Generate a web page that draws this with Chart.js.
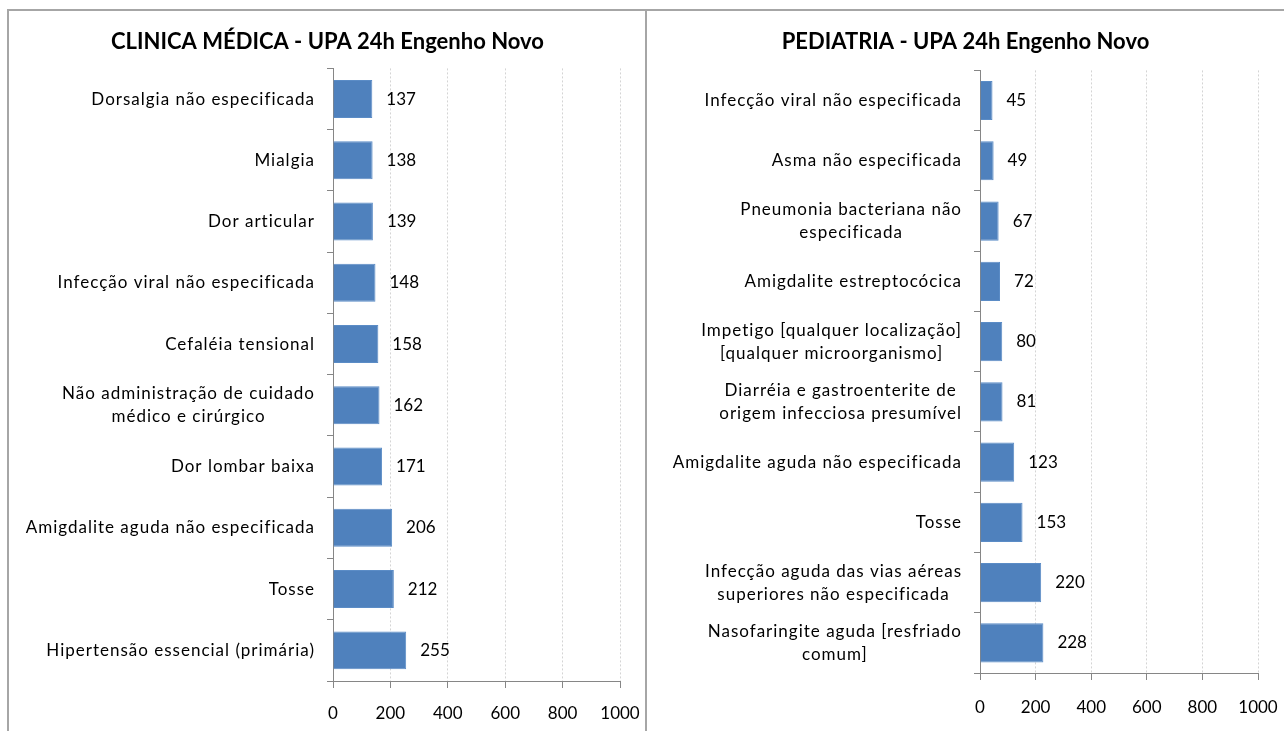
<!DOCTYPE html>
<html lang="pt">
<head>
    <meta charset="UTF-8">
    <title>UPA 24h Engenho Novo</title>
    <script src="https://cdn.jsdelivr.net/npm/chart.js"></script>
    <style>
        body { margin: 0; background: #fff; width: 1284px; height: 731px; overflow: hidden; position: relative; }
        #frame { position: absolute; left: 7px; top: 9px; width: 1277px; height: 722px; border-top: 2px solid #a6a6a6; border-left: 2px solid #a6a6a6; }
        #divider { position: absolute; left: 645px; top: 9px; width: 2px; height: 722px; background: #a6a6a6; }
        canvas { position: absolute; top: 11px; }
        #clinicaChart { left: 10px; }
        #pediatriaChart { left: 647px; }
    </style>
</head>
<body>
    <div id="frame"></div>
    <div id="divider"></div>
    <canvas id="clinicaChart" width="635" height="720"></canvas>
    <canvas id="pediatriaChart" width="637" height="720"></canvas>

    <script>
        // Clinica medica (top to bottom)
        const clinicaLabels = [
            'Dorsalgia não especificada',
            'Mialgia',
            'Dor articular',
            'Infecção viral não especificada',
            'Cefaléia tensional',
            ['Não administração de cuidado', 'médico e cirúrgico'],
            'Dor lombar baixa',
            'Amigdalite aguda não especificada',
            'Tosse',
            'Hipertensão essencial (primária)'
        ];
        const clinicaValues = [137, 138, 139, 148, 158, 162, 171, 206, 212, 255];

        // Pediatria (top to bottom)
        const pediatriaLabels = [
            'Infecção viral não especificada',
            'Asma não especificada',
            ['Pneumonia bacteriana não', 'especificada'],
            'Amigdalite estreptocócica',
            ['Impetigo [qualquer localização]', '[qualquer microorganismo]'],
            ['Diarréia e gastroenterite de', 'origem infecciosa presumível'],
            'Amigdalite aguda não especificada',
            'Tosse',
            ['Infecção aguda das vias aéreas', 'superiores não especificada'],
            ['Nasofaringite aguda [resfriado', 'comum]']
        ];
        const pediatriaValues = [45, 49, 67, 72, 80, 81, 123, 153, 220, 228];

        const xTicks = [0, 200, 400, 600, 800, 1000];

        const FONT = 'Lato, "Open Sans", sans-serif';
        const LABEL_SIZE = 17;
        const LINE_H = 23;

        // category labels centered line by line, values to the right of bars
        const labelPlugin = {
            id: 'labelPlugin',
            afterDraw(chart) {
                const ctx = chart.ctx;
                const xs = chart.scales.x, ys = chart.scales.y;
                const data = chart.data.datasets[0].data;
                ctx.save();
                ctx.fillStyle = '#000';
                ctx.textBaseline = 'middle';
                chart.data.labels.forEach((lab, i) => {
                    const lines = Array.isArray(lab) ? lab : [lab];
                    const cy = ys.getPixelForValue(i);
                    ctx.font = LABEL_SIZE + 'px ' + FONT;
                    ctx.letterSpacing = '1px';
                    const w = Math.max(...lines.map(l => ctx.measureText(l).width));
                    const cx = chart.chartArea.left - 18 - w / 2;
                    ctx.textAlign = 'center';
                    lines.forEach((l, k) => {
                        ctx.fillText(l, cx, cy + (k - (lines.length - 1) / 2) * LINE_H);
                    });
                    ctx.letterSpacing = '0px';
                    ctx.font = '17px ' + FONT;
                    ctx.textAlign = 'left';
                    ctx.fillText(String(data[i]), xs.getPixelForValue(data[i]) + 14, cy);
                });
                ctx.restore();
            }
        };

        function makeChart(id, title, labels, values, box) {
            return new Chart(document.getElementById(id), {
                type: 'bar',
                data: {
                    labels: labels,
                    datasets: [{
                        data: values,
                        backgroundColor: '#4f81bd',
                        borderColor: '#5b8cc6',
                        borderWidth: 1,
                        barPercentage: box.bar,
                        categoryPercentage: 1
                    }]
                },
                options: {
                    indexAxis: 'y',
                    responsive: false,
                    animation: false,
                    layout: { padding: 0 },
                    plugins: {
                        legend: { display: false },
                        tooltip: { enabled: false },
                        title: {
                            display: true,
                            text: title,
                            color: '#000',
                            font: { family: FONT, size: 22, weight: 'bold' },
                            padding: { top: 18, bottom: box.titleBottom }
                        }
                    },
                    scales: {
                        x: {
                            min: 0,
                            max: 1000,
                            afterBuildTicks: s => { s.ticks = xTicks.map(v => ({ value: v })); },
                            afterFit: s => { s.height = box.xHeight; s.paddingLeft = 0; s.paddingRight = box.right; },
                            grid: { color: '#d4d4d4', tickColor: '#868686', tickLength: 7 },
                            border: { color: '#868686', width: 1, dash: [2, 2] },
                            ticks: {
                                color: '#000',
                                font: { family: FONT, size: 17 },
                                padding: box.tickPad,
                                maxRotation: 0,
                                callback: v => String(v)
                            }
                        },
                        y: {
                            afterFit: s => { s.width = box.left; },
                            grid: { drawOnChartArea: false, color: '#868686', tickLength: 6, offset: true },
                            border: { color: '#868686', width: 1 },
                            ticks: { color: 'rgba(0,0,0,0)', font: { family: FONT, size: 16 } }
                        }
                    }
                },
                plugins: [labelPlugin]
            });
        }

        makeChart('clinicaChart', 'CLINICA MÉDICA - UPA 24h Engenho Novo', clinicaLabels, clinicaValues,
            { left: 323, right: 25, titleBottom: 13, xHeight: 50, tickPad: 15, bar: 0.62 });
        makeChart('pediatriaChart', 'PEDIATRIA - UPA 24h Engenho Novo', pediatriaLabels, pediatriaValues,
            { left: 333, right: 26, titleBottom: 15, xHeight: 58, tickPad: 17, bar: 0.65 });
    </script>
</body>
</html>
